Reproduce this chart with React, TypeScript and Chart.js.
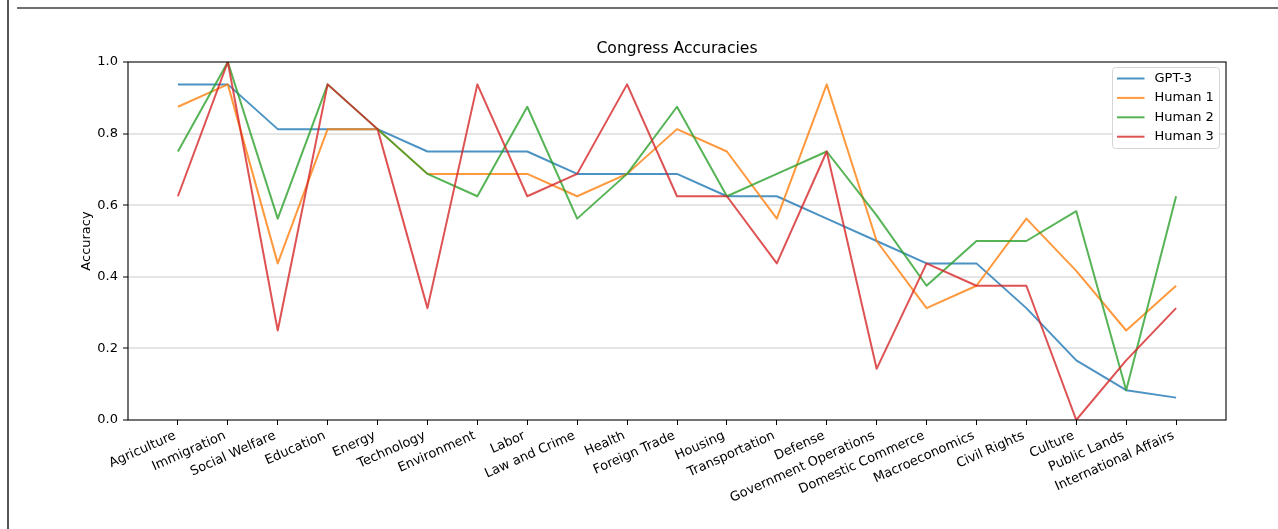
import React, { useEffect, useRef } from 'react';
import { Chart, registerables } from 'chart.js';

Chart.register(...registerables);

const categories = [
  'Agriculture', 'Immigration', 'Social Welfare', 'Education', 'Energy', 'Technology',
  'Environment', 'Labor', 'Law and Crime', 'Health', 'Foreign Trade', 'Housing',
  'Transportation', 'Defense', 'Government Operations', 'Domestic Commerce',
  'Macroeconomics', 'Civil Rights', 'Culture', 'Public Lands', 'International Affairs',
];

const gpt3 = [0.9375, 0.9375, 0.8125, 0.8125, 0.8125, 0.75, 0.75, 0.75, 0.6875, 0.6875, 0.6875, 0.625, 0.625, 0.5625, 0.5, 0.4375, 0.4375, 0.3125, 0.1667, 0.0833, 0.0625];
const human1 = [0.875, 0.9375, 0.4375, 0.8125, 0.8125, 0.6875, 0.6875, 0.6875, 0.625, 0.6875, 0.8125, 0.75, 0.5625, 0.9375, 0.5, 0.3125, 0.375, 0.5625, 0.4167, 0.25, 0.375];
const human2 = [0.75, 1.0, 0.5625, 0.9375, 0.8125, 0.6875, 0.625, 0.875, 0.5625, 0.6875, 0.875, 0.625, 0.6875, 0.75, 0.5714, 0.375, 0.5, 0.5, 0.5833, 0.0833, 0.625];
const human3 = [0.625, 1.0, 0.25, 0.9375, 0.8125, 0.3125, 0.9375, 0.625, 0.6875, 0.9375, 0.625, 0.625, 0.4375, 0.75, 0.1429, 0.4375, 0.375, 0.375, 0.0, 0.1667, 0.3125];

const seriesNames = ['GPT-3', 'Human 1', 'Human 2', 'Human 3'];
const seriesValues = [gpt3, human1, human2, human3];
const seriesColors = [
  'rgba(31,119,180,0.8)',
  'rgba(255,127,14,0.8)',
  'rgba(44,160,44,0.8)',
  'rgba(214,39,40,0.8)',
];

const yTicks = [0, 0.2, 0.4, 0.6, 0.8, 1.0];
const titleText = 'Congress Accuracies';
const yLabelText = 'Accuracy';

const FONT = 'DejaVu Sans';
const LABEL_ROT = (24 * Math.PI) / 180;

const overlayPlugin = {
  id: 'overlay',
  afterDatasetsDraw(chart: any) {
    const { ctx, chartArea } = chart;
    ctx.save();
    ctx.strokeStyle = '#000';
    ctx.lineWidth = 1.1;
    ctx.strokeRect(chartArea.left, chartArea.top, chartArea.right - chartArea.left, chartArea.bottom - chartArea.top);
    ctx.restore();
  },
  afterDraw(chart: any) {
    const { ctx, chartArea } = chart;
    const xScale = chart.scales.x;
    ctx.save();
    // x tick labels (matplotlib-style: rotated, right/top aligned bounding box)
    const fs = 13;
    ctx.font = `${fs}px "${FONT}"`;
    ctx.fillStyle = '#000';
    ctx.textAlign = 'left';
    ctx.textBaseline = 'alphabetic';
    const a = 0.76 * fs;
    const d = 0.24 * fs;
    const c = Math.cos(LABEL_ROT);
    const s = Math.sin(LABEL_ROT);
    const topY = chartArea.bottom + 9.2;
    categories.forEach((label, i) => {
      const w = ctx.measureText(label).width;
      const corners = [
        [0, -a],
        [w, -a],
        [w, d],
        [0, d],
      ].map(([x, y]) => [x * c + y * s, -x * s + y * c]);
      const xmax = Math.max(...corners.map((p) => p[0]));
      const ymin = Math.min(...corners.map((p) => p[1]));
      const tx = xScale.getPixelForValue(i);
      ctx.save();
      ctx.translate(tx - xmax, topY - ymin);
      ctx.rotate(-LABEL_ROT);
      ctx.fillText(label, 0, 0);
      ctx.restore();
    });
    // title
    ctx.font = `15.6px "${FONT}"`;
    ctx.textAlign = 'center';
    ctx.textBaseline = 'alphabetic';
    ctx.fillText(titleText, (chartArea.left + chartArea.right) / 2, 53);
    // y label
    ctx.save();
    ctx.translate(86.5, (chartArea.top + chartArea.bottom) / 2);
    ctx.rotate(-Math.PI / 2);
    ctx.font = `13px "${FONT}"`;
    ctx.textAlign = 'center';
    ctx.textBaseline = 'middle';
    ctx.fillText(yLabelText, 0, 0);
    ctx.restore();
    // legend
    const lw = 107;
    const lh = 81;
    const lx = chartArea.right - 6.5 - lw;
    const ly = chartArea.top + 5.5;
    const r = 3;
    ctx.beginPath();
    ctx.moveTo(lx + r, ly);
    ctx.lineTo(lx + lw - r, ly);
    ctx.quadraticCurveTo(lx + lw, ly, lx + lw, ly + r);
    ctx.lineTo(lx + lw, ly + lh - r);
    ctx.quadraticCurveTo(lx + lw, ly + lh, lx + lw - r, ly + lh);
    ctx.lineTo(lx + r, ly + lh);
    ctx.quadraticCurveTo(lx, ly + lh, lx, ly + lh - r);
    ctx.lineTo(lx, ly + r);
    ctx.quadraticCurveTo(lx, ly, lx + r, ly);
    ctx.closePath();
    ctx.fillStyle = 'rgba(255,255,255,0.8)';
    ctx.fill();
    ctx.strokeStyle = 'rgba(204,204,204,0.8)';
    ctx.lineWidth = 1;
    ctx.stroke();
    ctx.font = `13px "${FONT}"`;
    ctx.textAlign = 'left';
    ctx.textBaseline = 'middle';
    seriesNames.forEach((name, i) => {
      const y = ly + 11 + i * 19.4;
      ctx.strokeStyle = seriesColors[i];
      ctx.lineWidth = 2;
      ctx.beginPath();
      ctx.moveTo(lx + 4.5, y);
      ctx.lineTo(lx + 32, y);
      ctx.stroke();
      ctx.fillStyle = '#000';
      ctx.fillText(name, lx + 42, y);
    });
    ctx.restore();
  },
};

export default function App() {
  const ref = useRef<HTMLCanvasElement | null>(null);

  useEffect(() => {
    if (!ref.current) return;
    const chart = new Chart(ref.current, {
      type: 'line',
      data: {
        datasets: seriesNames.map((name, si) => ({
          label: name,
          data: seriesValues[si].map((v, i) => ({ x: i, y: v })),
          borderColor: seriesColors[si],
          backgroundColor: seriesColors[si],
          borderWidth: 2,
          pointRadius: 0,
          tension: 0,
          fill: false,
          order: seriesNames.length - si,
          borderJoinStyle: 'round',
        })),
      },
      options: {
        animation: false,
        responsive: false,
        layout: { padding: { left: 0, top: 62, right: 52, bottom: 0 } },
        plugins: {
          legend: { display: false },
          title: { display: false },
          tooltip: { enabled: false },
        },
        scales: {
          x: {
            type: 'linear',
            min: -1,
            max: 21,
            afterBuildTicks: (s: any) => {
              s.ticks = categories.map((_, i) => ({ value: i }));
            },
            afterFit: (s: any) => {
              s.height = 109;
            },
            ticks: {
              display: false,
              autoSkip: false,
              callback: (v: any) => categories[v] ?? '',
            },
            grid: {
              drawOnChartArea: false,
              drawTicks: true,
              tickLength: 5,
              tickColor: '#000',
              tickWidth: 1,
            },
            border: { display: false },
          },
          y: {
            type: 'linear',
            min: 0,
            max: 1,
            afterBuildTicks: (s: any) => {
              s.ticks = yTicks.map((v) => ({ value: v }));
            },
            afterFit: (s: any) => {
              s.width = 128;
            },
            ticks: {
              padding: 5,
              color: '#000',
              font: { family: FONT, size: 13 },
              callback: (v: any) => Number(v).toFixed(1),
            },
            grid: {
              color: (c: any) =>
                c.tick && c.tick.value > 0.001 && c.tick.value < 0.999 ? 'rgba(0,0,0,0.1)' : 'rgba(0,0,0,0)',
              lineWidth: 2,
              drawTicks: true,
              tickLength: 5,
              tickColor: '#000',
              tickWidth: 1,
            },
            border: { display: false },
          },
        },
      } as any,
      plugins: [overlayPlugin],
    });
    return () => chart.destroy();
  }, []);

  return (
    <div style={{ position: 'fixed', left: 0, top: 0, width: 1278, height: 529, background: '#fff' }}>
      <canvas ref={ref} width={1278} height={529} style={{ position: 'absolute', left: 0, top: 0 }} />
      <div style={{ position: 'absolute', left: 7, top: 0, width: 2, height: 529, background: '#555' }} />
      <div style={{ position: 'absolute', left: 17, top: 7, width: 1261, height: 2, background: '#707070' }} />
    </div>
  );
}
